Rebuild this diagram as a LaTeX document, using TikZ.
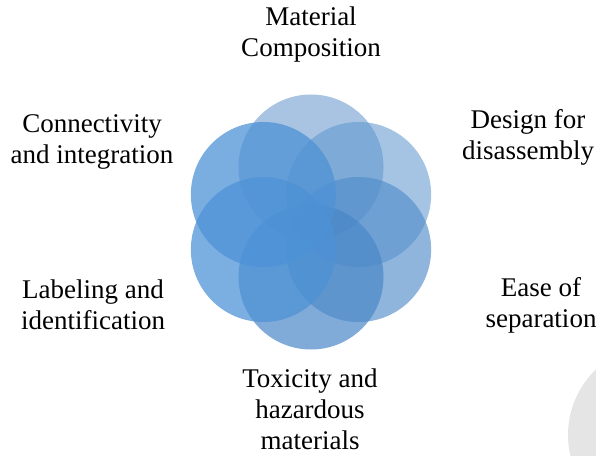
\documentclass[tikz,border=0pt]{standalone}
\usepackage{fontspec}
\setmainfont{Liberation Serif}
\definecolor{blueT}{RGB}{97,148,202}
\definecolor{blueUR}{RGB}{91,148,204}
\definecolor{blueLR}{RGB}{83,141,203}
\definecolor{blueB}{RGB}{74,135,199}
\definecolor{blueLL}{RGB}{77,146,214}
\definecolor{blueUL}{RGB}{77,146,214}
\definecolor{cornergray}{RGB}{229,229,229}

\begin{document}
\begin{tikzpicture}[x=1pt,y=1pt,
  petal/.style={circle, minimum size=145pt, inner sep=0pt},
  lbl/.style={align=center, font=\fontsize{27}{31}\selectfont}]
\clip (0,0) rectangle (596,455);
\fill[cornergray] (659,20) circle (91);
\coordinate (mid) at (311,233);
% six overlapping circles round the middle
\foreach \a/\c/\o/\n in {90/blueT/0.55/pt, 30/blueUR/0.55/pur, -30/blueLR/0.65/plr,
    -90/blueB/0.7/pb, -150/blueLL/0.74/pll, 150/blueUL/0.75/pul}{
  \node[petal, fill=\c, fill opacity=\o] (\n) at ([shift={(\a:55)}]mid) {};
}
% labels
\node[lbl] (material) at (311,420) {Material\\Composition};
\node[lbl] (design) at (528,318) {Design for\\disassembly};
\node[lbl] (connect) at (92,313) {Connectivity\\and integration};
\node[lbl] (labeling) at (93,150) {Labeling and\\identification};
\node[lbl] (ease) at (541,150) {Ease of\\separation};
\node[lbl] (toxic) at (310,46) {Toxicity and\\hazardous\\materials};
\end{tikzpicture}
\end{document}
